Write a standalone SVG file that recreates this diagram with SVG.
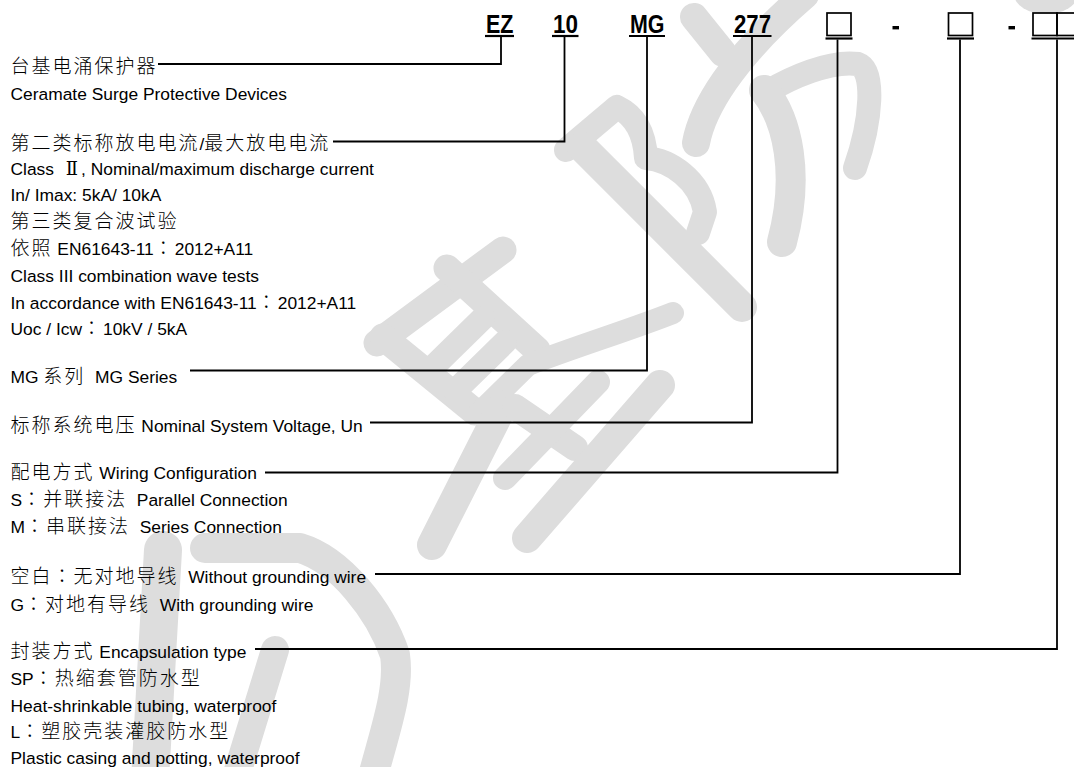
<svg xmlns="http://www.w3.org/2000/svg" width="1074" height="767" viewBox="0 0 1074 767" xml:space="preserve">
<style>
.t{font-family:"Liberation Sans",Arial,sans-serif;font-size:17.4px;fill:#000;white-space:pre}
.c{font-family:"Noto Sans CJK SC",sans-serif;font-size:19px;letter-spacing:2px;font-weight:300}
.k{font-family:"Noto Sans CJK TC",sans-serif;font-size:19px;letter-spacing:2px;font-weight:300}
.r{font-family:"DejaVu Serif","Liberation Serif",serif;font-size:18px;letter-spacing:3px}
.code{font-family:"Liberation Sans",Arial,sans-serif;font-weight:bold;font-size:26.5px;fill:#000}
.ul{stroke:#000;stroke-width:2.2;fill:none}
.box{stroke:#000;stroke-width:1.7;fill:none}
.wm{stroke:#dddddd;fill:none;stroke-linecap:round;stroke-linejoin:round}
.conn path{stroke:#000;stroke-width:1.8;fill:none}
</style>
<rect width="1074" height="767" fill="#fff"/>
<g id="watermark" class="wm">
  <path d="M694,17 L723,53" stroke-width="28"/>
  <path d="M696,143 C702,110 730,60 805,-5" stroke-width="28"/>
  <path d="M767,92 C790,78 830,60 858,64 C875,70 872,120 855,168" stroke-width="24"/>
  <path d="M764,90 C788,120 800,175 782,242" stroke-width="30"/>
  <path d="M566,150 L617,107 C640,118 645,140 646,158 C670,160 700,180 705,212 L698,233" stroke-width="24"/>
  <path d="M582,147 L742,307" stroke-width="30"/>
  <ellipse cx="1046" cy="-6" rx="32" ry="20" fill="#dddddd" stroke="none"/>
  <path d="M377,343 L503,250" stroke-width="27"/>
  <path d="M383,337 L475,412" stroke-width="27"/>
  <path d="M447,268 L537,350" stroke-width="27"/>
  <path d="M433,367 L483,318" stroke-width="24"/>
  <path d="M455,391 L505,342" stroke-width="24"/>
  <path d="M478,414 L528,365 C580,345 630,330 673,313" stroke-width="22"/>
  <path d="M503,405 L432,545" stroke-width="30"/>
  <path d="M515,407 L575,448" stroke-width="26"/>
  <path d="M598,382 L505,478" stroke-width="24"/>
  <path d="M660,385 L527,538" stroke-width="30"/>
  <path d="M163,550 L150,780" stroke-width="38"/>
  <path d="M205,548 L300,548 C340,560 380,610 395,655 C400,690 385,730 372,780" stroke-width="30"/>
  <path d="M275,650 L235,780" stroke-width="28"/>
</g>
<g id="code">
  <g id="code-ez"><text class="code" x="486" y="32.5" textLength="27.5" lengthAdjust="spacingAndGlyphs">EZ</text><path class="ul" d="M485,36 H514"/></g>
  <g id="code-10"><text class="code" x="553" y="32.5" textLength="25" lengthAdjust="spacingAndGlyphs">10</text><path class="ul" d="M552,36 H578.5"/></g>
  <g id="code-mg"><text class="code" x="630" y="32.5" textLength="34.5" lengthAdjust="spacingAndGlyphs">MG</text><path class="ul" d="M629,36 H665"/></g>
  <g id="code-277"><text class="code" x="734" y="32.5" textLength="37" lengthAdjust="spacingAndGlyphs">277</text><path class="ul" d="M733,36 H771.5"/></g>
  <g id="code-box1"><rect class="box" x="827" y="13" width="24" height="22.5"/><path class="ul" d="M825.5,38.5 H852.5"/></g>
  <rect id="dash1" x="892.5" y="26" width="6.5" height="3.4" fill="#000"/>
  <g id="code-box2"><rect class="box" x="948.5" y="13" width="24" height="22.5"/><path class="ul" d="M947,38.5 H974"/></g>
  <rect id="dash2" x="1008.5" y="26" width="6.5" height="3.4" fill="#000"/>
  <g id="code-box34"><rect class="box" x="1033" y="13" width="24" height="22.5"/><rect class="box" x="1057" y="13" width="24" height="22.5"/><path class="ul" d="M1031.5,38.5 H1074"/></g>
</g>
<g id="connectors" class="conn">
  <path d="M158,64 H501 V37"/>
  <path d="M333,141.5 H564.5 V37"/>
  <path d="M190,370.5 H647 V37"/>
  <path d="M370,422.5 H752 V37"/>
  <path d="M265,472.5 H837.5 V39.5"/>
  <path d="M375,574 H960 V39.5"/>
  <path d="M255,649 H1057 V39.5"/>
</g>
<g id="n-ez">
  <text class="t" x="10.5" y="72.5"><tspan class="c">台基电涌保护器</tspan></text>
  <text class="t" x="10.5" y="100">Ceramate Surge Protective Devices</text>
</g>
<g id="n-10">
  <text class="t" x="10.5" y="149.5"><tspan class="c">第二类标称放电电流</tspan>/<tspan class="c">最大放电电流</tspan></text>
  <text class="t" x="10.5" y="174.5">Class <tspan class="r" dx="7">Ⅱ</tspan>, Nominal/maximum discharge current</text>
  <text class="t" x="10.5" y="201">In/ Imax: 5kA/ 10kA</text>
  <text class="t" x="10.5" y="227.5"><tspan class="c">第三类复合波试验</tspan></text>
  <text class="t" x="10.5" y="255"><tspan class="c">依照</tspan> EN61643-11<tspan class="k">：</tspan>2012+A11</text>
  <text class="t" x="10.5" y="281.7">Class III combination wave tests</text>
  <text class="t" x="10.5" y="309.3">In accordance with EN61643-11<tspan class="k">：</tspan>2012+A11</text>
  <text class="t" x="10.5" y="335">Uoc / Icw<tspan class="k">：</tspan>10kV / 5kA</text>
</g>
<g id="n-mg">
  <text class="t" x="10.5" y="382.7">MG <tspan class="c">系列</tspan>  MG Series</text>
</g>
<g id="n-277">
  <text class="t" x="10.5" y="431.5"><tspan class="c">标称系统电压</tspan> Nominal System Voltage, Un</text>
</g>
<g id="n-wiring">
  <text class="t" x="10.5" y="479"><tspan class="c">配电方式</tspan> Wiring Configuration</text>
  <text class="t" x="10.5" y="506">S<tspan class="k">：</tspan><tspan class="c">并联接法</tspan>  Parallel Connection</text>
  <text class="t" x="10.5" y="532.5">M<tspan class="k">：</tspan><tspan class="c">串联接法</tspan>  Series Connection</text>
</g>
<g id="n-ground">
  <text class="t" x="10.5" y="582.7"><tspan class="c">空白</tspan><tspan class="k">：</tspan><tspan class="c">无对地导线</tspan>  Without grounding wire</text>
  <text class="t" x="10.5" y="611">G<tspan class="k">：</tspan><tspan class="c">对地有导线</tspan>  With grounding wire</text>
</g>
<g id="n-encap">
  <text class="t" x="10.5" y="657.5"><tspan class="c">封装方式</tspan> Encapsulation type</text>
  <text class="t" x="10.5" y="685">SP<tspan class="k">：</tspan><tspan class="c">热缩套管防水型</tspan></text>
  <text class="t" x="10.5" y="711.5">Heat-shrinkable tubing, waterproof</text>
  <text class="t" x="10.5" y="738">L<tspan class="k">：</tspan><tspan class="c">塑胶壳装灌胶防水型</tspan></text>
  <text class="t" x="10.5" y="764">Plastic casing and potting, waterproof</text>
</g>
</svg>
